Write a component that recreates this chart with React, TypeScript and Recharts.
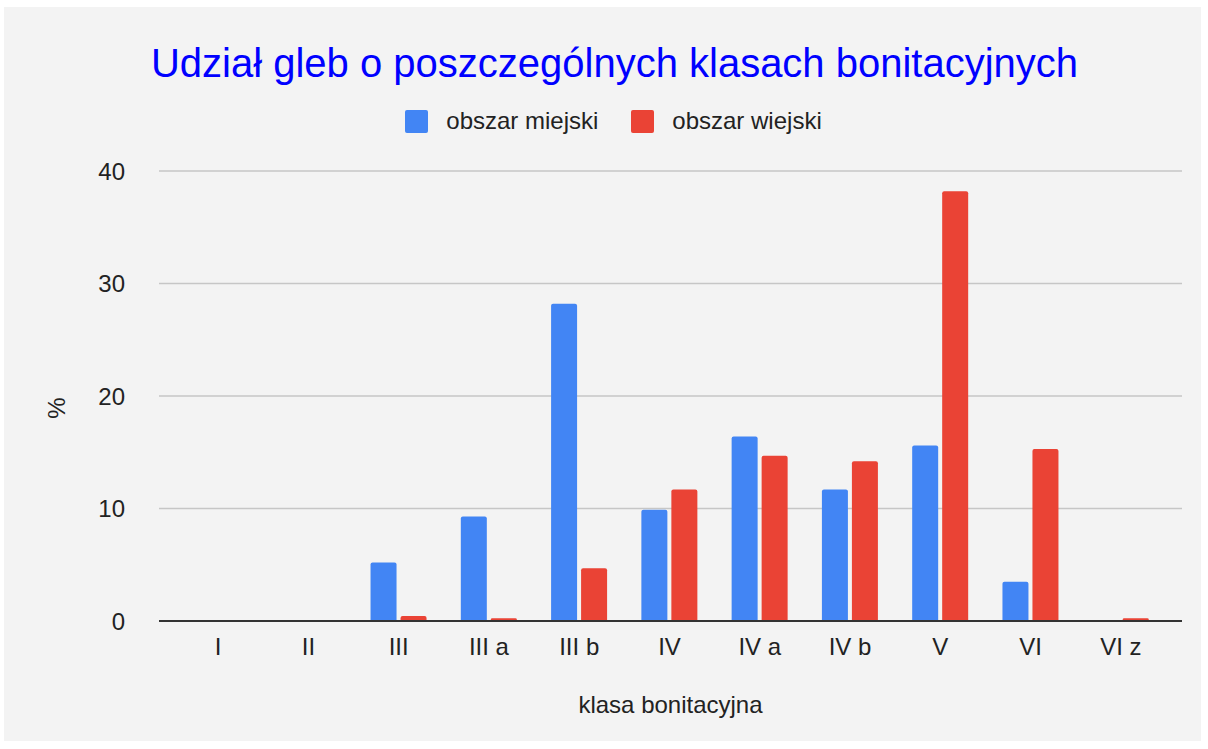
import React from "react";
import { BarChart, Bar, XAxis, YAxis, CartesianGrid } from "recharts";

const categories = ["I", "II", "III", "III a", "III b", "IV", "IV a", "IV b", "V", "VI", "VI z"];
const miejski = [0, 0, 5.2, 9.3, 28.2, 9.9, 16.4, 11.7, 15.6, 3.5, 0];
const wiejski = [0, 0, 0.45, 0.25, 4.7, 11.7, 14.7, 14.2, 38.2, 15.3, 0.25];
const yTicks = [0, 10, 20, 30, 40];

const data = categories.map((c, i) => ({ name: c, miejski: miejski[i], wiejski: wiejski[i] }));

const FONT = "'Liberation Sans', Arial, sans-serif";
const BLUE = "#4285f4";
const RED = "#ea4335";

export default function App() {
  return (
    <div style={{ position: "absolute", left: 4, top: 7, width: 1197, height: 734, background: "#f3f3f3", fontFamily: FONT }}>
      <div style={{ position: "absolute", left: 12, width: 1197, top: 32, textAlign: "center", fontSize: 40, color: "#0000ff", lineHeight: "48px" }}>
        Udział gleb o poszczególnych klasach bonitacyjnych
      </div>
      <div style={{ position: "absolute", left: 11, width: 1197, top: 100, display: "flex", justifyContent: "center", alignItems: "center", fontSize: 24, color: "#222", lineHeight: "28px" }}>
        <span style={{ display: "inline-block", width: 23, height: 23, background: BLUE, borderRadius: 2, marginRight: 18 }} />
        <span style={{ marginRight: 33 }}>obszar miejski</span>
        <span style={{ display: "inline-block", width: 23, height: 23, background: RED, borderRadius: 2, marginRight: 18 }} />
        <span>obszar wiejski</span>
      </div>
      <div style={{ position: "absolute", left: 38, top: 386, width: 30, height: 30, display: "flex", alignItems: "center", justifyContent: "center", transform: "rotate(-90deg)", fontSize: 24, color: "#222" }}>
        %
      </div>
      <div style={{ position: "absolute", left: 155, width: 1023, top: 684, textAlign: "center", fontSize: 24, color: "#222", lineHeight: "28px" }}>
        klasa bonitacyjna
      </div>
      <div style={{ position: "absolute", left: 0, top: 0 }}>
        <BarChart width={1197} height={734} data={data} margin={{ top: 164, right: 19, bottom: 90, left: 0 }} barSize={26} barGap={4}>
          <CartesianGrid vertical={false} stroke="#c6c6c6" strokeWidth={1.5} />
          <XAxis
            dataKey="name"
            padding={{ left: 14, right: 16 }}
            axisLine={{ stroke: "#333", strokeWidth: 2 }}
            tickLine={false}
            tickMargin={11}
            tick={{ fill: "#222", fontSize: 24, fontFamily: FONT }}
            interval={0}
          />
          <YAxis
            width={155}
            domain={[0, 40]}
            ticks={yTicks}
            axisLine={false}
            tickLine={false}
            tickMargin={28}
            tick={{ fill: "#222", fontSize: 24, fontFamily: FONT }}
          />
          <Bar dataKey="miejski" fill={BLUE} radius={[2, 2, 0, 0]} isAnimationActive={false} />
          <Bar dataKey="wiejski" fill={RED} radius={[2, 2, 0, 0]} isAnimationActive={false} />
        </BarChart>
      </div>
    </div>
  );
}
